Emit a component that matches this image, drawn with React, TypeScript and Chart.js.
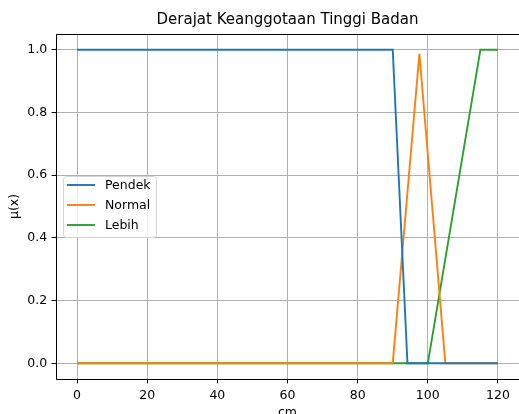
import React, { useEffect, useRef } from "react";
import { Chart, registerables } from "chart.js";

Chart.register(...registerables);

const TITLE = "Derajat Keanggotaan Tinggi Badan";
const X_LABEL = "cm";
const Y_LABEL = "μ(x)";

const xTicks = [0, 20, 40, 60, 80, 100, 120];
const yTicks = [0, 0.2, 0.4, 0.6, 0.8, 1.0];

const pendekX = [0, 90, 94.2, 120];
const pendekY = [1, 1, 0, 0];
const normalX = [0, 90, 97.6, 105, 120];
const normalY = [0, 0, 0.987, 0, 0];
const lebihX = [0, 100, 115, 120];
const lebihY = [0, 0, 1, 1];

const seriesNames = ["Pendek", "Normal", "Lebih"];
const seriesColors = ["#1f77b4", "#ff7f0e", "#2ca02c"];

const FONT = "'DejaVu Sans', sans-serif";

const toPts = (xs: number[], ys: number[]) => xs.map((x, i) => ({ x, y: ys[i] }));

const spinesPlugin = {
  id: "spines",
  afterDatasetsDraw(chart: any) {
    const { ctx, chartArea: a } = chart;
    ctx.save();
    ctx.strokeStyle = "#000";
    ctx.lineWidth = 1;
    ctx.strokeRect(Math.round(a.left) + 0.5, Math.round(a.top) + 0.5, Math.round(a.right - a.left), Math.round(a.bottom - a.top));
    ctx.restore();
  },
};

const legendPlugin = {
  id: "mplLegend",
  afterDraw(chart: any) {
    const { ctx } = chart;
    const x0 = 63.5, y0 = 176.5, w = 93, h = 61, r = 3;
    ctx.save();
    ctx.beginPath();
    ctx.moveTo(x0 + r, y0);
    ctx.lineTo(x0 + w - r, y0);
    ctx.arcTo(x0 + w, y0, x0 + w, y0 + r, r);
    ctx.lineTo(x0 + w, y0 + h - r);
    ctx.arcTo(x0 + w, y0 + h, x0 + w - r, y0 + h, r);
    ctx.lineTo(x0 + r, y0 + h);
    ctx.arcTo(x0, y0 + h, x0, y0 + h - r, r);
    ctx.lineTo(x0, y0 + r);
    ctx.arcTo(x0, y0, x0 + r, y0, r);
    ctx.closePath();
    ctx.fillStyle = "rgba(255,255,255,0.8)";
    ctx.fill();
    ctx.strokeStyle = "#d5d5d5";
    ctx.lineWidth = 1;
    ctx.stroke();
    ctx.font = `12.5px ${FONT}`;
    ctx.textBaseline = "middle";
    ctx.textAlign = "left";
    chart.data.datasets.forEach((ds: any, i: number) => {
      const y = 185 + i * 20;
      ctx.beginPath();
      ctx.moveTo(67, y);
      ctx.lineTo(95, y);
      ctx.strokeStyle = ds.borderColor;
      ctx.lineWidth = 1.9;
      ctx.stroke();
      ctx.fillStyle = "#000";
      ctx.fillText(ds.label, 105, y + 0.5);
    });
    ctx.restore();
  },
};

export default function App() {
  const ref = useRef<HTMLCanvasElement | null>(null);
  useEffect(() => {
    if (!ref.current) return;
    const datasets = [
      toPts(pendekX, pendekY),
      toPts(normalX, normalY),
      toPts(lebihX, lebihY),
    ].map((data, i) => ({
      label: seriesNames[i],
      data,
      borderColor: seriesColors[i],
      backgroundColor: seriesColors[i],
      borderWidth: 1.9,
      pointRadius: 0,
      showLine: true,
      fill: false,
      tension: 0,
    }));
    const chart = new Chart(ref.current, {
      type: "scatter",
      data: { datasets },
      plugins: [spinesPlugin, legendPlugin],
      options: {
        animation: false,
        responsive: false,
        devicePixelRatio: 1,
        layout: { padding: { left: 0, right: 0, top: 0, bottom: 0 } },
        plugins: {
          legend: { display: false },
          tooltip: { enabled: false },
          title: {
            display: true,
            fullSize: false,
            text: TITLE,
            color: "#000",
            font: { family: FONT, size: 15, weight: "normal" },
            padding: { top: 11, bottom: 5 },
          },
        },
        scales: {
          x: {
            type: "linear",
            min: -6,
            max: 126,
            afterBuildTicks(scale: any) {
              scale.ticks = xTicks.map((v) => ({ value: v }));
            },
            afterFit(scale: any) {
              scale.height = 35;
            },
            ticks: {
              color: "#000",
              font: { family: FONT, size: 12.5 },
              padding: 5,
              maxRotation: 0,
              autoSkip: false,
            },
            grid: {
              color: "#b0b0b0",
              lineWidth: 1,
              tickColor: "#000",
              tickLength: 4.4,
              drawTicks: true,
            },
            border: { display: false },
            title: {
              display: true,
              text: X_LABEL,
              color: "#000",
              font: { family: FONT, size: 12.5, lineHeight: 1 },
              padding: { top: 0, bottom: -4.5 },
            },
          },
          y: {
            type: "linear",
            min: -0.05,
            max: 1.05,
            afterBuildTicks(scale: any) {
              scale.ticks = yTicks.map((v) => ({ value: v }));
            },
            afterFit(scale: any) {
              scale.width = 56;
            },
            ticks: {
              color: "#000",
              font: { family: FONT, size: 12.5 },
              padding: 4.4,
              callback: (v: any) => Number(v).toFixed(1),
            },
            grid: {
              color: "#b0b0b0",
              lineWidth: 1,
              tickColor: "#000",
              tickLength: 4.4,
              drawTicks: true,
            },
            border: { display: false },
            title: {
              display: true,
              text: Y_LABEL,
              color: "#000",
              font: { family: FONT, size: 12.5, lineHeight: 1.2 },
              padding: { top: 7.5, bottom: 0 },
            },
          },
        },
      },
    } as any);
    return () => chart.destroy();
  }, []);
  return (
    <div style={{ position: "absolute", left: 0, top: 0, width: 519, height: 414, background: "#fff" }}>
      <canvas ref={ref} width={519} height={414} style={{ display: "block" }} />
    </div>
  );
}
